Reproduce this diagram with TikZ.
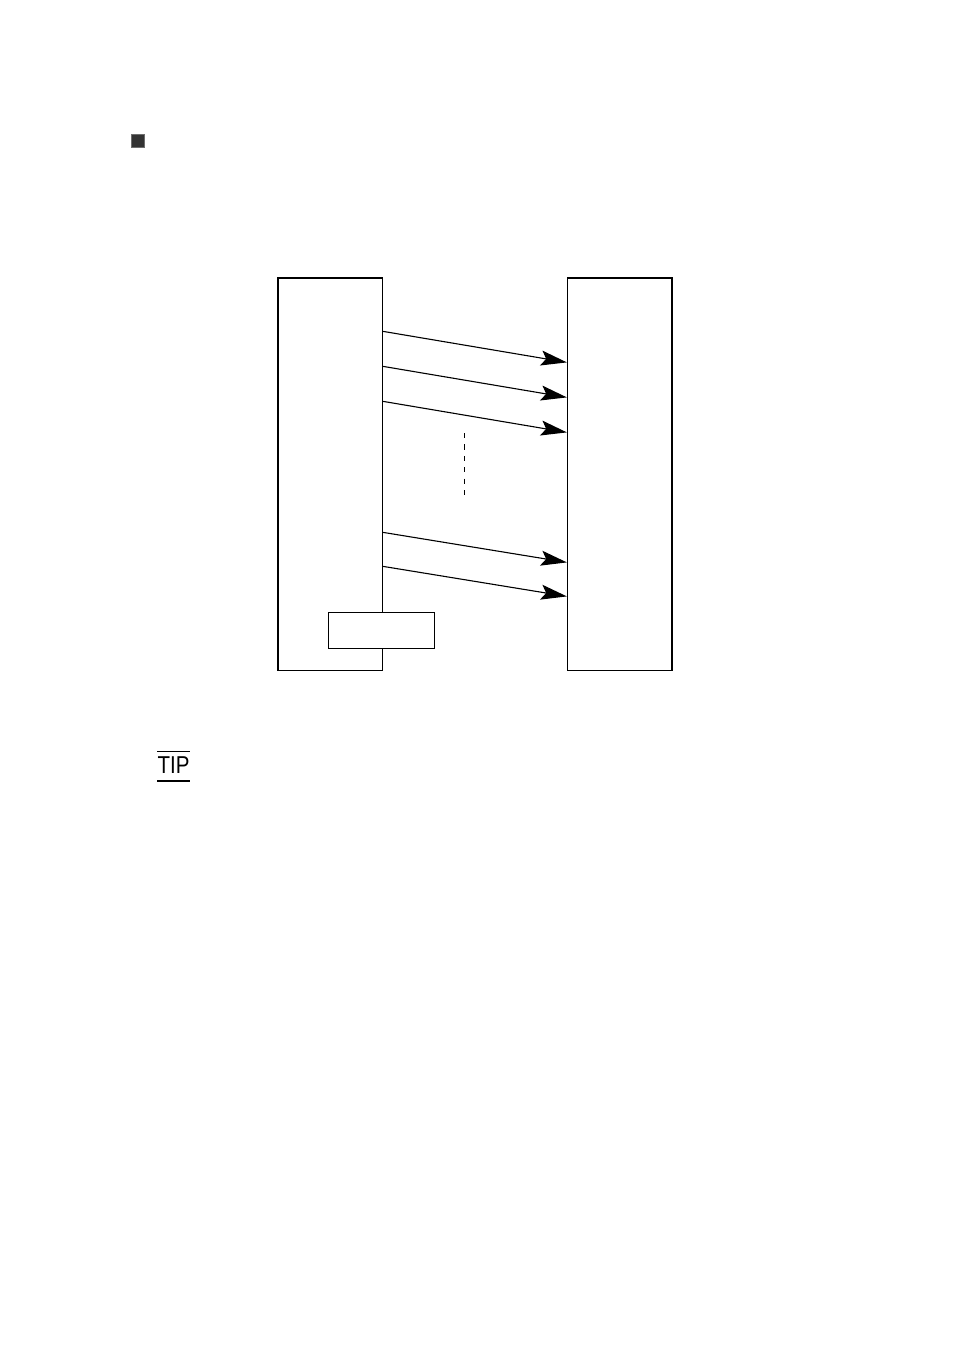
\documentclass[tikz,border=0pt]{standalone}
\usepackage{fontspec}
\usepackage{tikz}
\usetikzlibrary{arrows.meta}
\newfontfamily\tipfont{Liberation Sans}
\definecolor{darkgray}{RGB}{51, 51, 51}
\definecolor{midgray}{RGB}{110, 110, 110}

\begin{document}
\begin{tikzpicture}[x = 0.5pt, y = -0.5pt,
		block/.style = {draw, line width = 0.65pt, inner sep = 0pt, minimum width = 52.25pt, minimum height = 196.25pt},
		msg/.style = {line width = 0.55pt, -{Stealth[length = 13pt, width = 7.5pt, inset = 2.5pt]}}]
		\useasboundingbox (0,0) rectangle (954,1348);
		\node (mark) at (137.5,140.5) [draw = midgray, fill = darkgray, line width = 0.4pt, inner sep = 0pt, minimum size = 6.5pt] {};
		\node (src) at (330.3,474.3) [block] {};
		\node (dst) at (619.8,474.3) [block] {};
		\node (tag) at (381.3,630.3) [draw, fill = white, line width = 0.65pt, inner sep = 0pt, minimum width = 53pt, minimum height = 18pt] {};
		\draw[msg] ([yshift = -27pt]src.north east) -- ([yshift = -42.5pt]dst.north west);
		\draw[msg] ([yshift = -44.5pt]src.north east) -- ([yshift = -60pt]dst.north west);
		\draw[msg] ([yshift = -62pt]src.north east) -- ([yshift = -77.5pt]dst.north west);
		\draw[msg] ([yshift = -127.5pt]src.north east) -- ([yshift = -142.5pt]dst.north west);
		\draw[msg] ([yshift = -144.5pt]src.north east) -- ([yshift = -159.5pt]dst.north west);
		\coordinate (gapa) at (464,433);
		\coordinate (gapb) at (464,494.5);
		\draw[line width = 0.5pt, dash pattern = on 2.6pt off 3.1pt] (gapa) -- (gapb);
		\node (tip) at (173.5,765) [inner sep = 0pt, font = \tipfont\fontsize{12.2}{14}\selectfont] {\scalebox{0.84}[1]{TIP}};
		\draw[line width = 0.5pt] ([yshift = 2.6pt]tip.north west) -- ([yshift = 2.6pt]tip.north east);
		\draw[line width = 1pt] ([yshift = -3.4pt]tip.south west) -- ([yshift = -3.4pt]tip.south east);
		\end{tikzpicture}
\end{document}
